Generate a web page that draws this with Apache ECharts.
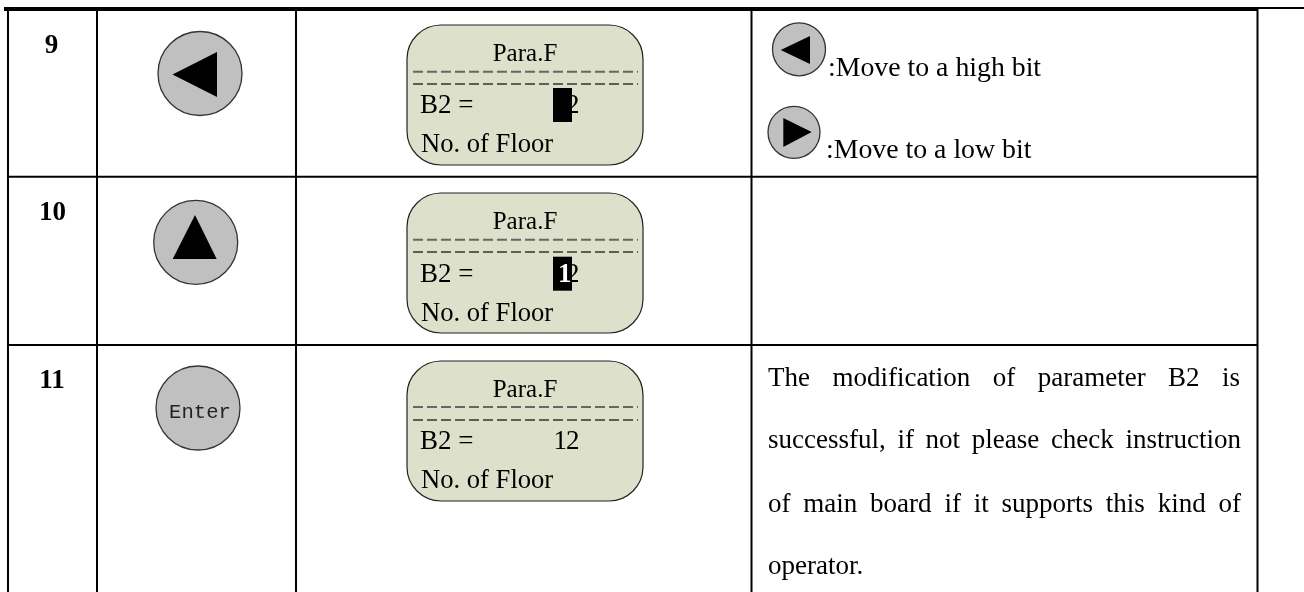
<!DOCTYPE HTML>
<html>

<head>
  <title>table</title>
  <script src="https://cdn.jsdelivr.net/npm/echarts@6/dist/echarts.min.js"></script>
  <style>
    html, body { margin: 0; padding: 0; background: #fff; }
    #view { width: 1304px; height: 592px; }
  </style>
</head>

<body>
  <div id="view"></div>
  <script>
    var rowLabels = ['9', '10', '11'];
    var screenTitle = 'Para.F';
    var screenParam = 'B2 =';
    var screenCaption = 'No. of Floor';
    var screenValues = ['2', '12', '12'];
    var iconNotes = [':Move to a high bit', ':Move to a low bit'];
    var enterLabel = 'Enter';
    var resultLines = [
      'The modification of parameter B2 is',
      'successful, if not please check instruction',
      'of main board if it supports this kind of',
      'operator.'
    ];

    var SERIF = '"Liberation Serif", serif';
    var els = [];
    var measure = document.createElement('canvas').getContext('2d');

    function line(x1, y1, x2, y2, w, dash, color) {
      els.push({
        type: 'line',
        z: 1,
        shape: { x1: x1, y1: y1, x2: x2, y2: y2 },
        style: { stroke: color || '#000', lineWidth: w, lineDash: dash || null }
      });
    }

    // y is the baseline, 1.03 is what the text box puts above it
    function text(x, y, str, size, opt) {
      opt = opt || {};
      els.push({
        type: 'text',
        x: x,
        y: y - size * 1.03,
        z: opt.z || 3,
        style: {
          text: str,
          fill: opt.fill || '#000',
          font: (opt.bold ? 'bold ' : '') + size + 'px ' + (opt.family || SERIF),
          align: opt.align || 'left',
          verticalAlign: 'top'
        }
      });
    }

    function circle(cx, cy, r) {
      els.push({
        type: 'circle',
        z: 1,
        shape: { cx: cx, cy: cy, r: r },
        style: { fill: '#c0c0c0', stroke: '#333', lineWidth: 1.3 }
      });
    }

    function triangle(points) {
      els.push({ type: 'polygon', z: 2, shape: { points: points }, style: { fill: '#000' } });
    }

    function screen(top, ys, valueIdx, cursor) {
      els.push({
        type: 'rect',
        z: 0,
        shape: { x: 407, y: top, width: 236, height: 140, r: 34 },
        style: { fill: '#dde0ca', stroke: '#222', lineWidth: 1.2 }
      });
      text(525, ys.title, screenTitle, 25, { align: 'center' });
      line(413, ys.dash1, 638, ys.dash1, 2, [10, 4], '#666');
      line(413, ys.dash2, 638, ys.dash2, 1.3, [10, 4], '#333');
      text(420, ys.value, screenParam, 27);
      text(421, ys.caption, screenCaption, 26.6);
      if (cursor) {
        els.push({
          type: 'rect',
          z: 4,
          shape: { x: 553, y: ys.value - 25, width: 19, height: 34 },
          style: { fill: '#000' }
        });
      }
      var v = screenValues[valueIdx];
      if (v.length == 2) {
        // the highlighted digit sits further right than the plain one
        text(cursor ? 558 : 553.5, ys.value, v.charAt(0), 27, { fill: cursor ? '#fff' : '#000', bold: cursor, z: 5 });
        text(566, ys.value, v.charAt(1), 27);
      } else {
        text(566, ys.value, v, 27);
      }
    }

    // text spread to the cell width, word by word
    function justified(str, left, right, y, size) {
      var words = str.split(' ');
      measure.font = size + 'px ' + SERIF;
      var total = 0;
      words.forEach(function (w) { total += measure.measureText(w).width; });
      var gap = (right - left - total) / (words.length - 1);
      var x = left;
      words.forEach(function (w) {
        text(x, y, w, size);
        x += measure.measureText(w).width + gap;
      });
    }

    // table rules
    var colX = [8, 97, 296, 751.5, 1257.5];
    var rowY = [176.8, 345];
    line(4, 9, 1258, 9, 4);
    line(1258, 8, 1304, 8, 2);
    colX.forEach(function (x) { line(x, 9, x, 592, 2); });
    rowY.forEach(function (y) { line(8, y, 1258, y, 2); });

    // first column
    text(51.5, 52, rowLabels[0], 27, { bold: true, align: 'center' });
    text(52.5, 219, rowLabels[1], 27, { bold: true, align: 'center' });
    text(52, 387, rowLabels[2], 27, { bold: true, align: 'center' });

    // buttons
    circle(200, 73.5, 42);
    triangle([[172.5, 74.5], [217, 52], [217, 97]]);
    circle(195.7, 242.3, 42);
    triangle([[195, 215], [172.7, 259], [216.7, 259]]);
    circle(198, 408, 42);
    text(200, 415.7, enterLabel, 20.6, { align: 'center', family: '"Liberation Mono", monospace', fill: '#222' });

    // screens
    screen(25, { title: 61, dash1: 71.7, dash2: 84, value: 113, caption: 152 }, 0, true);
    screen(193, { title: 229, dash1: 239.7, dash2: 252, value: 281.7, caption: 321 }, 1, true);
    screen(361, { title: 396.7, dash1: 407, dash2: 420, value: 449, caption: 488 }, 2, false);

    // notes in the last column
    circle(799, 49.3, 26.5);
    triangle([[780.7, 50], [810, 36], [810, 64]]);
    circle(794, 132.3, 26);
    triangle([[783.3, 118], [783.3, 147], [811.7, 132]]);
    text(828, 76, iconNotes[0], 27.8);
    text(826, 157.7, iconNotes[1], 27.8);

    var baselines = [386, 448, 511.7, 574];
    justified(resultLines[0], 768, 1240, baselines[0], 27);
    justified(resultLines[1], 768, 1241, baselines[1], 27);
    justified(resultLines[2], 768, 1241, baselines[2], 27);
    text(768, baselines[3], resultLines[3], 27);

    var myChart = echarts.init(document.getElementById('view'));
    myChart.setOption({
      animation: false,
      backgroundColor: '#fff',
      graphic: { elements: els }
    });
  </script>
</body>

</html>
